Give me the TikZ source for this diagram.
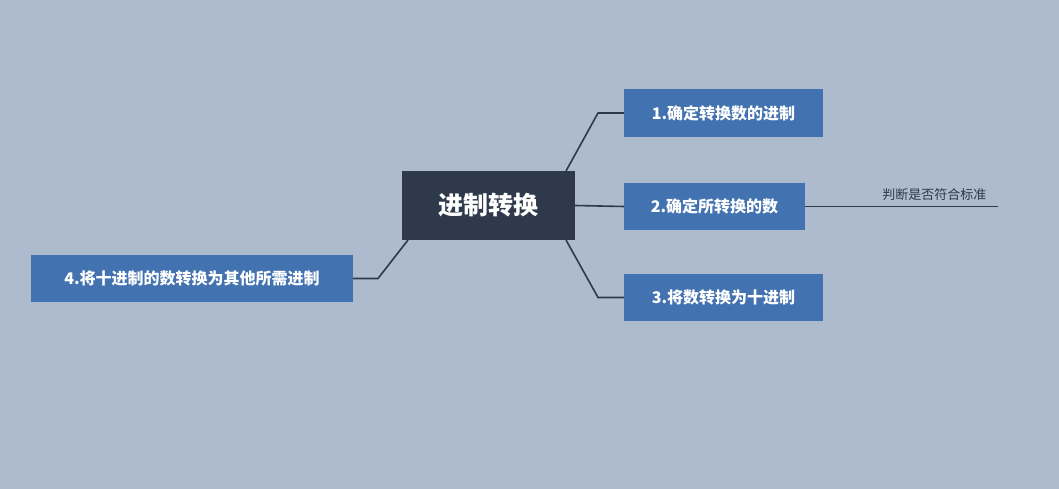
\documentclass[tikz,border=0pt]{standalone}
\usepackage{fontspec}
\setmainfont{Noto Sans CJK SC}
\begin{document}
\begin{tikzpicture}[x=1pt,y=-1pt,
  box/.style={fill=boxblue,text=white,font=\bfseries\fontsize{16}{19}\selectfont,inner sep=0pt,anchor=center},
  link/.style={draw=linkc,line width=1.6pt},
  thin/.style={draw=linkc,line width=0.8pt}]
\definecolor{bg}{HTML}{AEBACD}
\definecolor{boxblue}{HTML}{4272B0}
\definecolor{dark}{HTML}{2E3A4B}
\definecolor{linkc}{HTML}{2E3A4B}
\fill[bg] (0,0) rectangle (1059,489);
\useasboundingbox (0,0) rectangle (1059,489);
\node[fill=dark,text=white,font=\bfseries\fontsize{25}{29}\selectfont,minimum width=173pt,minimum height=69pt,inner sep=0pt] (c) at (488.5,205.5) {进制转换};
\node[box,minimum width=199pt,minimum height=48pt] (n1) at (723.5,113) {1.确定转换数的进制};
\node[box,minimum width=181pt,minimum height=47pt] (n2) at (714.5,206.5) {2.确定所转换的数};
\node[box,minimum width=199pt,minimum height=47pt] (n3) at (723.5,297.5) {3.将数转换为十进制};
\node[box,minimum width=322pt,minimum height=47pt] (n4) at (192,278.5) {4.将十进制的数转换为其他所需进制};
\coordinate (e) at (998,206.5);
\draw[link] (566,171) -- (598,113) -- (n1.west);
\draw[link] (c.east) -- (n2.west);
\draw[link] (566,240) -- (598,297.5) -- (n3.west);
\draw[link] (408,240) -- (378,278.5) -- (n4.east);
\draw[thin] (n2.east) -- (e) node[pos=0.67,above=2pt,text=dark,font=\fontsize{13}{15}\selectfont] (lab) {判断是否符合标准};
\end{tikzpicture}
\end{document}
